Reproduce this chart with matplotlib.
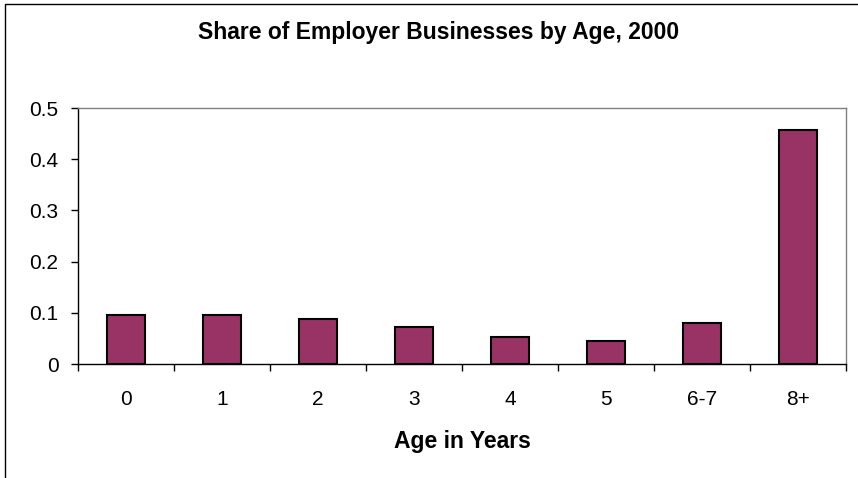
import matplotlib
matplotlib.use("Agg")
import matplotlib.pyplot as plt
from matplotlib.patches import Rectangle
import numpy as np

categories = ["0", "1", "2", "3", "4", "5", "6-7", "8+"]
shares = [0.096, 0.096, 0.088, 0.073, 0.053, 0.045, 0.080, 0.457]
yticks = [0, 0.1, 0.2, 0.3, 0.4, 0.5]
ytick_labels = ["0", "0.1", "0.2", "0.3", "0.4", "0.5"]

plt.rcParams['font.family'] = ['Liberation Sans', 'DejaVu Sans']

W, H = 858, 478
fig = plt.figure(figsize=(W / 100, H / 100), dpi=100)
fig.patch.set_facecolor("white")

# outer chart frame (top and left edges visible)
fig.add_artist(Rectangle((5 / W, -0.1), 1.2, 1 - 4 / H + 0.1, transform=fig.transFigure,
                         fill=False, edgecolor="black", linewidth=1.0))

left, right = 78 / W, 846 / W
bottom, top = 1 - 364 / H, 1 - 108 / H
ax = fig.add_axes([left, bottom, right - left, top - bottom])

x = np.arange(len(categories))
ax.bar(x, shares, width=0.4, color="#993366", edgecolor="black", linewidth=1.5, zorder=3)

ax.set_xlim(-0.5, len(categories) - 0.5)
ax.set_ylim(0, 0.5)
ax.set_yticks(yticks)
ax.set_yticklabels(ytick_labels, fontsize=15)
ax.tick_params(axis="y", direction="out", length=5, width=1, pad=9)

# category ticks between bars
ax.set_xticks(np.arange(-0.5, len(categories), 1.0), minor=False)
ax.set_xticklabels([])
ax.tick_params(axis="x", which="major", direction="out", length=5, width=1)
ax.set_xticks(x, minor=True)
ax.set_xticklabels(categories, minor=True, fontsize=15)
ax.tick_params(axis="x", which="minor", length=0, pad=19)

for s in ["left", "bottom"]:
    ax.spines[s].set_color("black")
    ax.spines[s].set_linewidth(1.0)
for s in ["top", "right"]:
    ax.spines[s].set_color("#808080")
    ax.spines[s].set_linewidth(1.0)

ax.set_xlabel("Age in Years", fontsize=16.5, fontweight="bold", labelpad=15)
fig.text(439 / W, 1 - 33 / H, "Share of Employer Businesses by Age, 2000",
         ha="center", va="center", fontsize=16.5, fontweight="bold")

fig.savefig("out.png", dpi=100)
